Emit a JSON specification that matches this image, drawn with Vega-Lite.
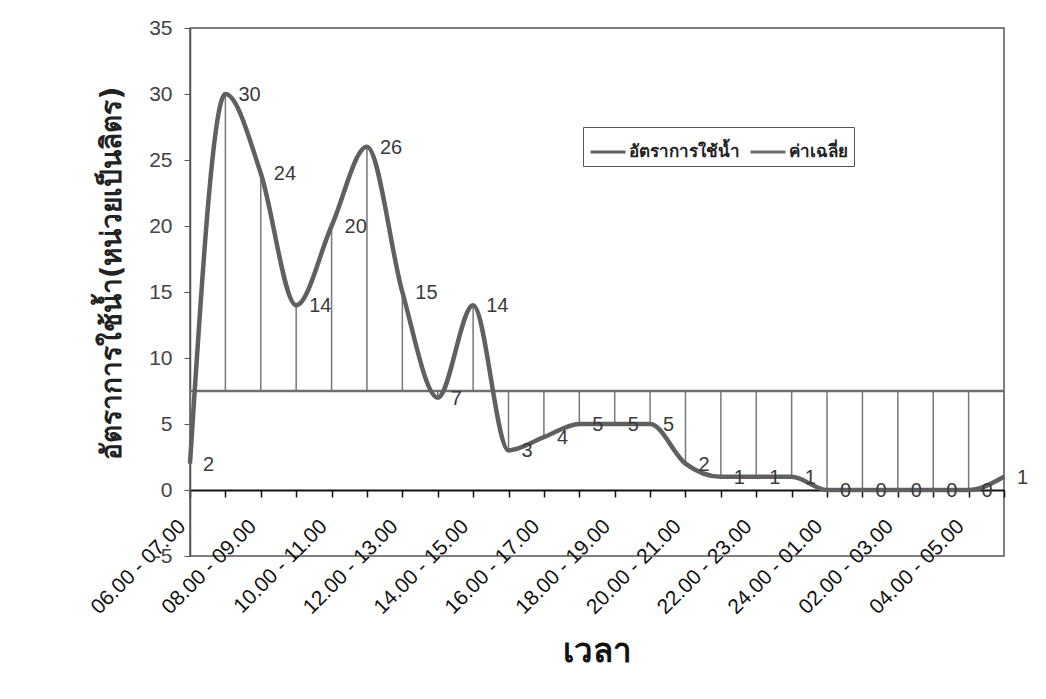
{
  "$schema": "https://vega.github.io/schema/vega-lite/v6.json",
  "autosize": {"type": "none"},
  "width": 814,
  "height": 528,
  "padding": {"left": 190, "top": 28, "right": 42, "bottom": 143},
  "background": "white",
  "config": {
    "font": "Liberation Sans",
    "view": {"stroke": "#555", "strokeWidth": 1.5}
  },
  "data": {
    "values": [
      {"time": "06.00 - 07.00", "value": 2, "avg": 7.5},
      {"time": "07.00 - 08.00", "value": 30, "avg": 7.5},
      {"time": "08.00 - 09.00", "value": 24, "avg": 7.5},
      {"time": "09.00 - 10.00", "value": 14, "avg": 7.5},
      {"time": "10.00 - 11.00", "value": 20, "avg": 7.5},
      {"time": "11.00 - 12.00", "value": 26, "avg": 7.5},
      {"time": "12.00 - 13.00", "value": 15, "avg": 7.5},
      {"time": "13.00 - 14.00", "value": 7, "avg": 7.5},
      {"time": "14.00 - 15.00", "value": 14, "avg": 7.5},
      {"time": "15.00 - 16.00", "value": 3, "avg": 7.5},
      {"time": "16.00 - 17.00", "value": 4, "avg": 7.5},
      {"time": "17.00 - 18.00", "value": 5, "avg": 7.5},
      {"time": "18.00 - 19.00", "value": 5, "avg": 7.5},
      {"time": "19.00 - 20.00", "value": 5, "avg": 7.5},
      {"time": "20.00 - 21.00", "value": 2, "avg": 7.5},
      {"time": "21.00 - 22.00", "value": 1, "avg": 7.5},
      {"time": "22.00 - 23.00", "value": 1, "avg": 7.5},
      {"time": "23.00 - 24.00", "value": 1, "avg": 7.5},
      {"time": "24.00 - 01.00", "value": 0, "avg": 7.5},
      {"time": "01.00 - 02.00", "value": 0, "avg": 7.5},
      {"time": "02.00 - 03.00", "value": 0, "avg": 7.5},
      {"time": "03.00 - 04.00", "value": 0, "avg": 7.5},
      {"time": "04.00 - 05.00", "value": 0, "avg": 7.5},
      {"time": "05.00 - 06.00", "value": 1, "avg": 7.5}
    ]
  },
  "encoding": {
    "x": {
      "field": "time",
      "type": "ordinal",
      "sort": null,
      "scale": {"type": "point", "padding": 0},
      "axis": {
        "title": "เวลา",
        "titleFont": "DejaVu Sans",
        "titleFontSize": 33,
        "titleFontWeight": "bold",
        "titleColor": "#111",
        "titlePadding": 18,
        "offset": -66,
        "domainColor": "#111",
        "domainWidth": 2,
        "tickColor": "#111",
        "tickSize": 7,
        "tickWidth": 1.5,
        "labelAngle": -45,
        "labelAlign": "right",
        "labelBaseline": "middle",
        "labelPadding": 26,
        "labelOffset": -8,
        "labelFontSize": 21,
        "labelColor": "#111",
        "labelOverlap": false,
        "labelExpr": "indexof(['06.00 - 07.00','08.00 - 09.00','10.00 - 11.00','12.00 - 13.00','14.00 - 15.00','16.00 - 17.00','18.00 - 19.00','20.00 - 21.00','22.00 - 23.00','24.00 - 01.00','02.00 - 03.00','04.00 - 05.00'], datum.value) >= 0 ? datum.value : ''"
      }
    }
  },
  "layer": [
    {
      "mark": {"type": "rule", "color": "#777", "strokeWidth": 1.5},
      "encoding": {
        "y": {"field": "value", "type": "quantitative"},
        "y2": {"field": "avg"}
      }
    },
    {
      "mark": {"type": "line", "strokeWidth": 2.5},
      "encoding": {
        "y": {"field": "avg", "type": "quantitative"},
        "color": {"datum": "ค่าเฉลี่ย"}
      }
    },
    {
      "mark": {"type": "line", "strokeWidth": 4.5, "interpolate": "monotone"},
      "encoding": {
        "y": {
          "field": "value",
          "type": "quantitative",
          "scale": {"domain": [-5, 35], "nice": false, "zero": false},
          "axis": {
            "title": "อัตราการใช้น้ำ(หน่วยเป็นลิตร)",
            "titleFont": "DejaVu Sans",
            "titleFontSize": 28,
            "titleFontWeight": "bold",
            "titleColor": "#222",
            "titlePadding": 22,
            "titleY": 245,
            "values": [-5, 0, 5, 10, 15, 20, 25, 30, 35],
            "labelExpr": "toString(datum.value)",
            "grid": false,
            "domainColor": "#555",
            "domainWidth": 1.5,
            "tickColor": "#555",
            "tickSize": 6,
            "labelFontSize": 21,
            "labelColor": "#444",
            "labelPadding": 12
          }
        },
        "color": {
          "datum": "อัตราการใช้น้ำ",
          "scale": {"domain": ["อัตราการใช้น้ำ", "ค่าเฉลี่ย"], "range": ["#606060", "#6e6e6e"]},
          "legend": {
            "title": null,
            "orient": "none",
            "legendX": 393,
            "legendY": 99,
            "direction": "horizontal",
            "symbolType": "stroke",
            "symbolSize": 1225,
            "symbolStrokeWidth": 3,
            "labelFont": "DejaVu Sans",
            "labelFontSize": 17,
            "labelFontWeight": "bold",
            "labelColor": "#222",
            "labelOffset": 2,
            "strokeColor": "#555",
            "fillColor": "white",
            "padding": 6,
            "columnPadding": 4
          }
        }
      }
    },
    {
      "mark": {"type": "text", "align": "left", "baseline": "middle", "dx": 13, "dy": 1, "fontSize": 20, "color": "#3a3a3a"},
      "encoding": {
        "y": {"field": "value", "type": "quantitative"},
        "text": {"field": "value", "type": "quantitative"}
      }
    }
  ]
}
